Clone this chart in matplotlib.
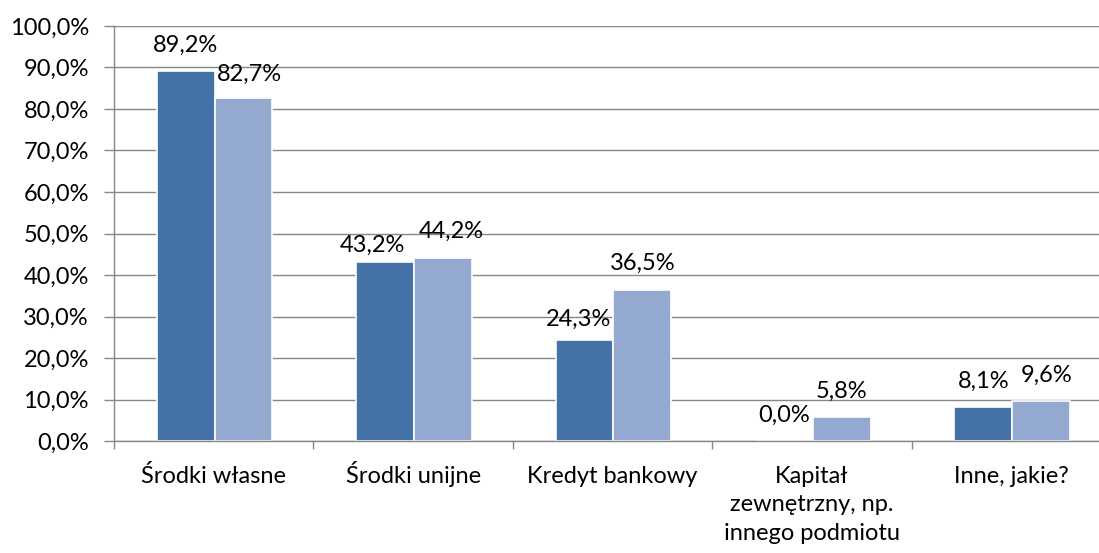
import numpy as np
import matplotlib
matplotlib.use('Agg')
import matplotlib.pyplot as plt
from matplotlib.ticker import FuncFormatter

categories = ['Środki własne', 'Środki unijne', 'Kredyt bankowy',
              'Kapitał\nzewnętrzny, np.\ninnego podmiotu', 'Inne, jakie?']
series_a = [89.2, 43.2, 24.3, 0.0, 8.1]
series_b = [82.7, 44.2, 36.5, 5.8, 9.6]
y_ticks = np.arange(0, 101, 10)

# small manual nudges of single data labels (points), as in the original
nudge_a = {1: (-9, -7), 2: (-4, -4)}
nudge_b = {0: (4, -2), 1: (6, 0), 4: (4, 0)}

plt.rcParams['font.family'] = ['Lato', 'DejaVu Sans']
FS = 17
GRID = '#878787'

fig = plt.figure(figsize=(10.99, 5.53), dpi=100)
# plot area runs a little past the right edge of the picture
ax = fig.add_axes([0.1037, 0.2025, 0.9072, 0.7505])

x = np.arange(len(categories))
w = 0.29
bars_a = ax.bar(x - w / 2 + 0.005, series_a, w, color='#4472A7',
                edgecolor='white', linewidth=1.2, zorder=3)
bars_b = ax.bar(x + w / 2 + 0.005, series_b, w, color='#93A9D0',
                edgecolor='white', linewidth=1.2, zorder=3)


def pct(v):
    return f'{v:.1f}%'.replace('.', ',')


for bars, nudge in ((bars_a, nudge_a), (bars_b, nudge_b)):
    for i, b in enumerate(bars):
        h = b.get_height()
        dx, dy = nudge.get(i, (0, 0))
        ax.annotate(pct(h), (b.get_x() + b.get_width() / 2, h),
                    xytext=(dx, 14 + dy), textcoords='offset points',
                    ha='center', va='baseline', fontsize=FS, color='black',
                    annotation_clip=False)

ax.set_xlim(-0.5, len(categories) - 0.5)
ax.set_ylim(0, 100)
ax.set_yticks(y_ticks)
ax.yaxis.set_major_formatter(FuncFormatter(lambda v, p: pct(v)))
ax.grid(axis='y', color=GRID, linewidth=1, zorder=0)

# category labels: one baseline-aligned text per line so all rows line up
ax.set_xticks(x)
ax.set_xticklabels([])
ax.tick_params(axis='x', length=0)
for xi, cat in zip(x, categories):
    for k, line in enumerate(cat.split('\n')):
        ax.annotate(line, (xi, 0), xycoords=('data', 'axes fraction'),
                    xytext=(0, -30.2 - 20.5 * k), textcoords='offset points',
                    ha='center', va='baseline', fontsize=FS, color='black',
                    annotation_clip=False)

ax.set_xticks(np.arange(len(categories) + 1) - 0.5, minor=True)
ax.tick_params(axis='x', which='minor', length=6, color=GRID, width=1)
ax.tick_params(axis='y', length=7, color=GRID, width=1, labelsize=FS, pad=11)

for s in ('top', 'right'):
    ax.spines[s].set_visible(False)
for s in ('left', 'bottom'):
    ax.spines[s].set_color(GRID)
    ax.spines[s].set_linewidth(1)
    ax.spines[s].set_zorder(4)

fig.savefig('out.png', dpi=100)
